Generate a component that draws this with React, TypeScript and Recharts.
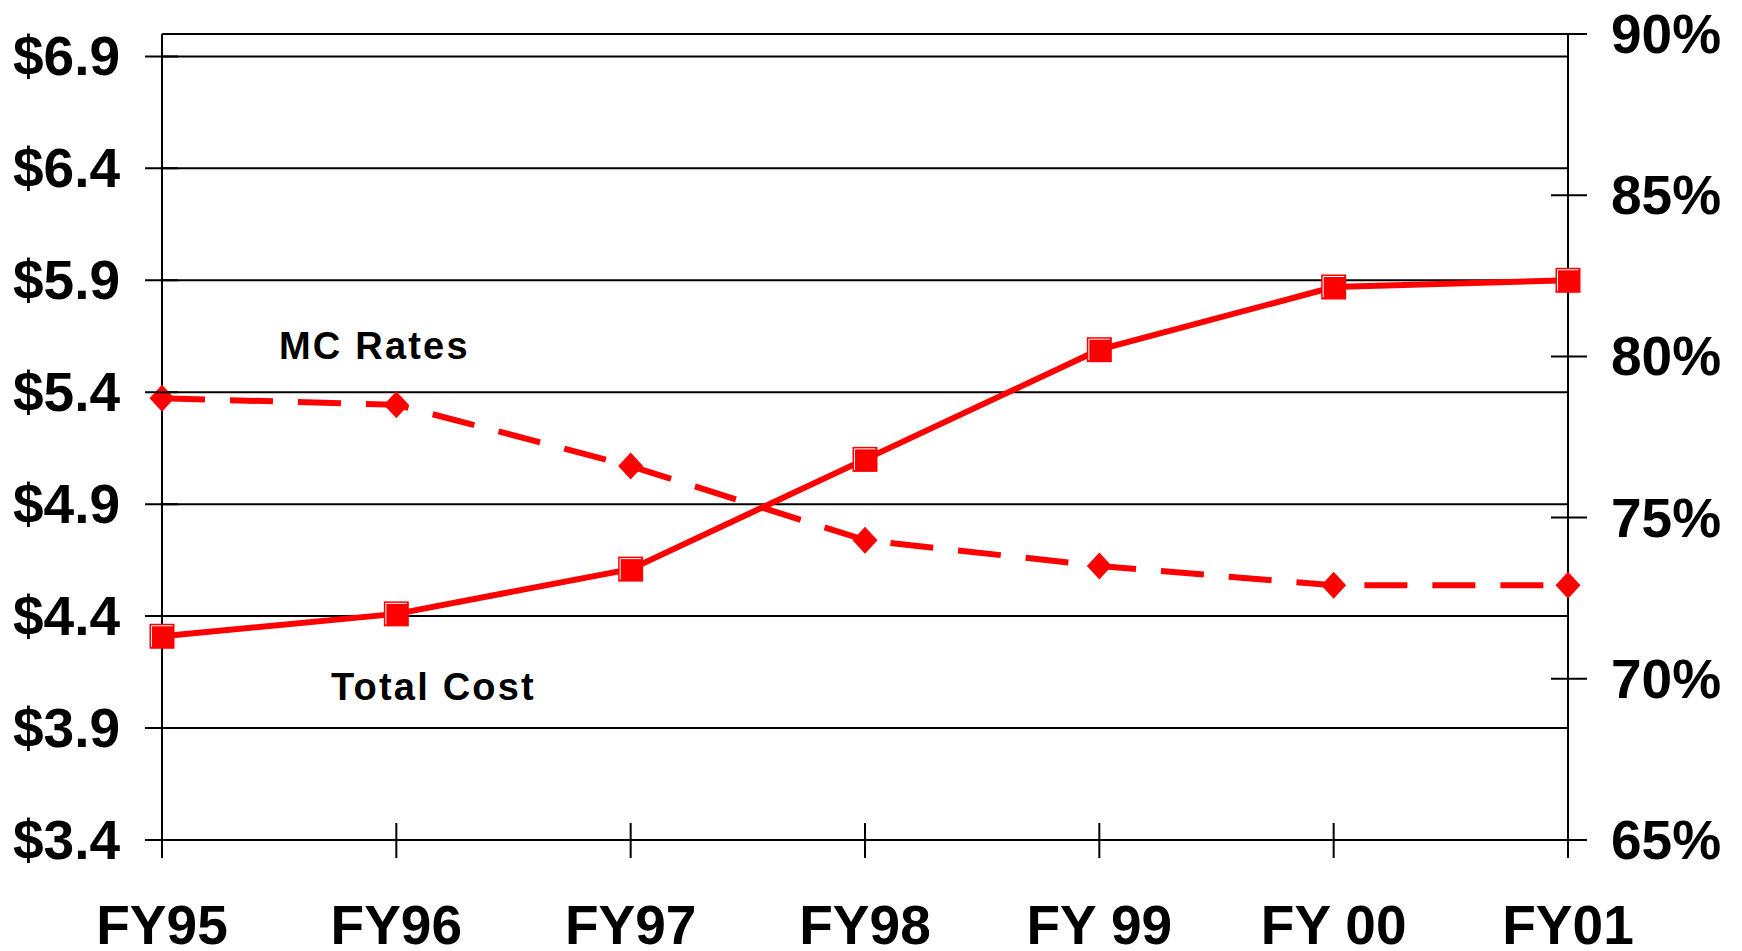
import React from "react";
import { CartesianGrid, Line, LineChart, XAxis, YAxis } from "recharts";

const years = ["FY95", "FY96", "FY97", "FY98", "FY 99", "FY 00", "FY01"];
const totalCost = [4.31, 4.41, 4.61, 5.1, 5.59, 5.87, 5.9];
const mcRates = [78.7, 78.5, 76.6, 74.3, 73.5, 72.9, 72.9];

const costTicks = [3.4, 3.9, 4.4, 4.9, 5.4, 5.9, 6.4, 6.9];
const rateTicks = [65, 70, 75, 80, 85, 90];

const FONT = "'Liberation Sans', Arial, sans-serif";
const RED = "#ff0000";

const data = years.map((year, i) => ({
  year,
  cost: totalCost[i],
  rate: mcRates[i],
}));

function LeftTick(props: any) {
  const { x, y, payload } = props;
  const ax = x + 42;
  return (
    <g>
      <line x1={ax - 17} x2={ax + 16} y1={y} y2={y} stroke="#000" strokeWidth={2} />
      <text x={x} y={y} dy={19} textAnchor="end" fontFamily={FONT} fontWeight="bold" fontSize={55} fill="#000">
        {`$${Number(payload.value).toFixed(1)}`}
      </text>
    </g>
  );
}

function RightTick(props: any) {
  const { x, y, payload } = props;
  const ax = x - 43;
  return (
    <g>
      <line x1={ax - 17} x2={ax + 19} y1={y} y2={y} stroke="#000" strokeWidth={2} />
      <text x={x} y={y} dy={19} textAnchor="start" fontFamily={FONT} fontWeight="bold" fontSize={55} fill="#000">
        {`${payload.value}%`}
      </text>
    </g>
  );
}

function BottomTick(props: any) {
  const { x, y, payload } = props;
  return (
    <g>
      <line x1={x} x2={x} y1={y - 35} y2={y} stroke="#000" strokeWidth={2} />
      <text x={x} y={y + 86} textAnchor="middle" fontFamily={FONT} fontWeight="bold" fontSize={55} fill="#000">
        {payload.value}
      </text>
    </g>
  );
}

function SquareDot(props: any) {
  const { cx, cy, index } = props;
  if (cx == null || cy == null) return null;
  const s = 12.5;
  return (
    <g key={`sq-${index}`}>
      <rect x={cx - s} y={cy - s} width={s * 2} height={s * 2} fill={RED} />
      <path
        d={`M${cx - s + 2},${cy + s - 2} V${cy - s + 2} H${cx + s - 2}`}
        fill="none"
        stroke="#fff"
        strokeWidth={1}
      />
    </g>
  );
}

function DiamondDot(props: any) {
  const { cx, cy, index } = props;
  if (cx == null || cy == null) return null;
  return (
    <path
      key={`dm-${index}`}
      d={`M${cx},${cy - 13.5} L${cx + 12.5},${cy} L${cx},${cy + 13.5} L${cx - 12.5},${cy} Z`}
      fill={RED}
    />
  );
}

export default function App() {
  return (
    <div style={{ position: "absolute", left: 0, top: 0, width: 1742, height: 951, background: "#fff" }}>
      <LineChart width={1742} height={951} data={data} margin={{ top: 34, right: 0, bottom: 0, left: 0 }}>
        <CartesianGrid yAxisId="left" vertical={false} stroke="#000" strokeWidth={2} />
        <XAxis
          dataKey="year"
          height={111}
          padding={{ left: 0, right: 0 }}
          axisLine={false}
          tickLine={false}
          tickSize={18}
          tickMargin={0}
          interval={0}
          tick={<BottomTick />}
        />
        <YAxis
          yAxisId="left"
          orientation="left"
          width={162}
          domain={[3.4, 7.0]}
          ticks={costTicks}
          allowDataOverflow
          axisLine={{ stroke: "#000", strokeWidth: 2 }}
          tickLine={false}
          tickSize={17}
          tickMargin={25}
          interval={0}
          tick={<LeftTick />}
        />
        <YAxis
          yAxisId="right"
          orientation="right"
          width={174}
          domain={[65, 90]}
          ticks={rateTicks}
          allowDataOverflow
          axisLine={{ stroke: "#000", strokeWidth: 2 }}
          tickLine={false}
          tickSize={17}
          tickMargin={26}
          interval={0}
          tick={<RightTick />}
        />
        <Line
          yAxisId="right"
          dataKey="rate"
          name="MC Rates"
          stroke={RED}
          strokeWidth={6}
          strokeDasharray="43 25"
          dot={<DiamondDot />}
          activeDot={false}
          isAnimationActive={false}
        />
        <Line
          yAxisId="left"
          dataKey="cost"
          name="Total Cost"
          stroke={RED}
          strokeWidth={6}
          dot={<SquareDot />}
          activeDot={false}
          isAnimationActive={false}
        />
      </LineChart>
      <svg
        width={1742}
        height={951}
        style={{ position: "absolute", left: 0, top: 0, pointerEvents: "none" }}
      >
        <text x={279} y={359} fontFamily={FONT} fontWeight="bold" fontSize={38} letterSpacing={2.2} fill="#000">
          MC Rates
        </text>
        <text x={331} y={700} fontFamily={FONT} fontWeight="bold" fontSize={38} letterSpacing={2.2} fill="#000">
          Total Cost
        </text>
      </svg>
    </div>
  );
}
